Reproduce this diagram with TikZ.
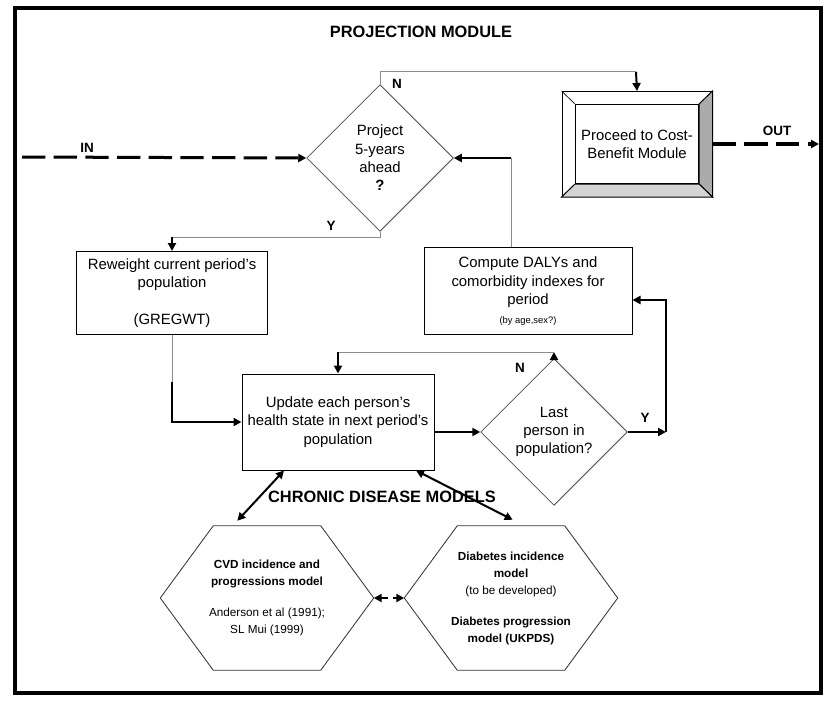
\documentclass[tikz,border=0pt]{standalone}
\usepackage{fontspec}
\setmainfont{Liberation Sans}
\usetikzlibrary{shapes.geometric,arrows.meta}

\begin{document}
\begin{tikzpicture}[x=0.3mm,y=-0.3mm,
		>={Triangle[length=2.4mm,width=2.4mm]},
		txt/.style={font=\fontsize{12.7}{15.7}\selectfont,align=center},
		box/.style={txt,draw,line width=0.3mm},
		choice/.style={txt,diamond,draw=black!70,line width=0.25mm,inner sep=0pt,minimum width=44mm,minimum height=44mm},
		hexbox/.style={font=\fontsize{10}{14.5}\selectfont,align=center,minimum width=63.9mm,minimum height=43.2mm},
		hexline/.style={draw=black!80,line width=0.25mm},
		heading/.style={font=\fontsize{14}{16}\selectfont\bfseries},
		lbl/.style={font=\fontsize{11.5}{13}\selectfont\bfseries},
		thinline/.style={draw=black!45,line width=0.3mm},
		thickline/.style={draw=black,line width=0.6mm},
		dashline/.style={line width=0.9mm,dash pattern=on 7mm off 2.5mm}]
		\useasboundingbox (0,0) rectangle (832,702);
		\draw[line width=1.2mm] (15,8) rectangle (821,693);
		\node[heading](title) at (421,32) {PROJECTION MODULE};
		\node[heading](cdm) at (382,497) {CHRONIC DISEASE MODELS};
		\node[choice](d1) at (380,158) {Project\\5-years\\ahead\\\textbf{?}};
		\node[choice](d2) at (554,432) {Last\\person in\\population?};
		\node[box,minimum width=57.3mm,minimum height=24.9mm](rw) at (172,293) {Reweight current period's\\population\\\\(GREGWT)};
		\node[box,minimum width=57.6mm,minimum height=28.8mm](upd) at (338,422) {Update each person's\\health state in next period's\\population};
		\node[box,minimum width=62.4mm,minimum height=26.1mm](cmp) at (528,291) {Compute DALYs and\\comorbidity indexes for\\period\\{\fontsize{8}{9}\selectfont(by age,sex?)}};
		\node[draw,line width=0.3mm,minimum width=45mm,minimum height=31.5mm](cbm) at (637,144) {};
		\node[box,minimum width=36.9mm,minimum height=23.7mm](cbmin) at (637,144) {Proceed to Cost-\\Benefit Module};
		\filldraw[fill=black!33,line width=0.3mm] (cbm.north east) -- (cbm.south east) -- (cbmin.south east) -- (cbmin.north east) -- cycle;
		\filldraw[fill=black!17,line width=0.3mm] (cbm.south west) -- (cbm.south east) -- (cbmin.south east) -- (cbmin.south west) -- cycle;
		\draw[line width=0.2mm] (cbm.north west) -- (cbmin.north west);
		\node[hexbox](cvd) at (267,598) {\textbf{CVD incidence and}\\\textbf{progressions model}\\[12pt]Anderson et al (1991);\\SL Mui (1999)};
		\node[hexbox](dia) at (511,598) {\textbf{Diabetes incidence}\\\textbf{model}\\(to be developed)\\[12pt]\textbf{Diabetes progression}\\\textbf{model (UKPDS)}};
		\draw[hexline] (cvd.west) -- ([xshift=15.9mm]cvd.north west) -- ([xshift=-15.9mm]cvd.north east) -- (cvd.east) -- ([xshift=-15.9mm]cvd.south east) -- ([xshift=15.9mm]cvd.south west) -- cycle;
		\draw[hexline] (dia.west) -- ([xshift=15.9mm]dia.north west) -- ([xshift=-15.9mm]dia.north east) -- (dia.east) -- ([xshift=-15.9mm]dia.south east) -- ([xshift=15.9mm]dia.south west) -- cycle;
		\node[lbl](lin) at (87,148) {IN};
		\node[lbl](lout) at (777,131) {OUT};
		\node[lbl](ln1) at (397,84) {N};
		\node[lbl](ly1) at (331,226) {Y};
		\node[lbl](ln2) at (520,368) {N};
		\node[lbl](ly2) at (645,418) {Y};
		\coordinate (in) at (22,157);
		\coordinate (out) at (819,144);
		\coordinate (ntop) at (636,72);
		\coordinate (ycorner) at (172,237);
		\coordinate (rwbend) at (172,382);
		\coordinate (nloopR) at (554,352);
		\coordinate (nloopL) at (338,352);
		\coordinate (yright) at (666,432);
		\coordinate (yup) at (666,300);
		\coordinate (cmpup) at (511,158);
		\draw[dashline,->] (in) -- (d1.west);
		\draw[dashline,->] (cbm.east) -- (out);
		\draw[thinline] (d1.north) |- (ntop);
		\draw[thickline,->] (ntop) -- (cbm.north);
		\draw[thinline] (d1.south) |- (ycorner);
		\draw[thickline,->] (ycorner) -- (rw.north);
		\draw[thinline] (rw.south) -- (rwbend);
		\draw[thickline,->] (rwbend) |- (upd.west);
		\draw[thickline,->] (upd.east |- d2.west) -- (d2.west);
		\draw[thickline,->] (d2.north) -- (nloopR);
		\draw[thinline] (nloopR) -- (nloopL);
		\draw[thickline,->] (nloopL) -- (upd.north);
		\draw[thickline,->] (d2.east) -- (yright);
		\draw[thickline,->] (yright) -- (yup) -- (yup -| cmp.east);
		\draw[thinline] (cmp.north -| cmpup) -- (cmpup);
		\draw[thickline,->] (cmpup) -- (d1.east);
		\draw[thickline,<->] ([xshift=-16.2mm]upd.south) -- ([xshift=-8.9mm,yshift=1.5mm]cvd.north);
		\draw[thickline,<->] ([xshift=23.4mm]upd.south) -- ([xshift=0.5mm,yshift=1.8mm]dia.north);
		\draw[line width=0.7mm,dash pattern=on 2mm off 1.5mm,<->] (cvd.east) -- (dia.west);
	\end{tikzpicture}
\end{document}
